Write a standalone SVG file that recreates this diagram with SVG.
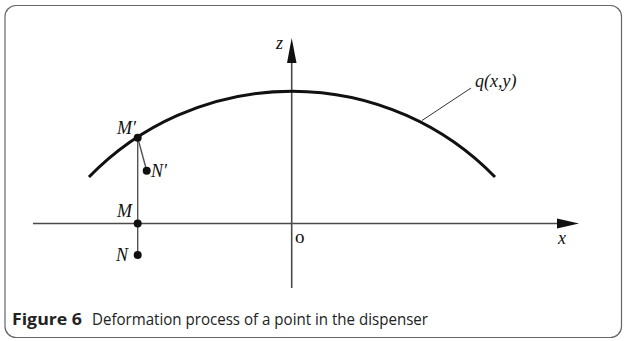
<svg xmlns="http://www.w3.org/2000/svg" width="624" height="341" viewBox="0 0 624 341">
<defs>
<style>
.ax{stroke:#4a4a4a;stroke-width:1.6;fill:none}
.thin{stroke:#555;stroke-width:1.4;fill:none}
.lbl{font-family:"Liberation Serif",serif;font-style:italic;font-size:18px;fill:#111}
.cap{font-family:"Open Sans","Noto Sans",sans-serif;font-size:16.5px;fill:#222}
</style>
</defs>
<rect x="5" y="5.5" width="616.5" height="332" rx="11" fill="#fff" stroke="#666" stroke-width="1.2"/>
<g id="connectors">
<line class="ax" x1="33" y1="223.5" x2="560" y2="223.5"/>
<polygon points="557,218.5 579,223.5 557,228.5" fill="#111"/>
<line class="ax" x1="291.7" y1="288" x2="291.7" y2="60"/>
<polygon points="287,63 291.7,38 296.5,63" fill="#111"/>
<line class="thin" x1="137.7" y1="137.7" x2="137.7" y2="255"/>
<line class="thin" x1="137.7" y1="137.7" x2="146.7" y2="170.7"/>
<line stroke="#333" stroke-width="1" x1="422" y1="120.5" x2="471" y2="88"/>
</g>
<g id="curve">
<path d="M89,177 A283,283 0 0 1 495,177" fill="none" stroke="#111" stroke-width="3"/>
</g>
<g id="Mp"><circle cx="137.7" cy="137.7" r="4" fill="#111"/><text class="lbl" x="117" y="134">M′</text></g>
<g id="Np"><circle cx="146.7" cy="170.7" r="4" fill="#111"/><text class="lbl" x="151" y="177">N′</text></g>
<g id="M"><circle cx="137.7" cy="223.5" r="4" fill="#111"/><text class="lbl" x="117" y="217">M</text></g>
<g id="N"><circle cx="137.7" cy="255" r="4" fill="#111"/><text class="lbl" x="116" y="261">N</text></g>
<g id="labels">
<text class="lbl" x="276" y="49" font-size="19">z</text>
<text class="lbl" x="558" y="244" font-size="20">x</text>
<text x="295" y="243" font-family="Liberation Serif,serif" font-size="19" fill="#111">o</text>
<text class="lbl" x="475" y="87" font-size="16">q(x,y)</text>
</g>
<text class="cap" x="12" y="325"><tspan font-weight="bold" textLength="70" lengthAdjust="spacingAndGlyphs">Figure 6</tspan><tspan x="92" textLength="336" lengthAdjust="spacingAndGlyphs">Deformation process of a point in the dispenser</tspan></text>
</svg>
